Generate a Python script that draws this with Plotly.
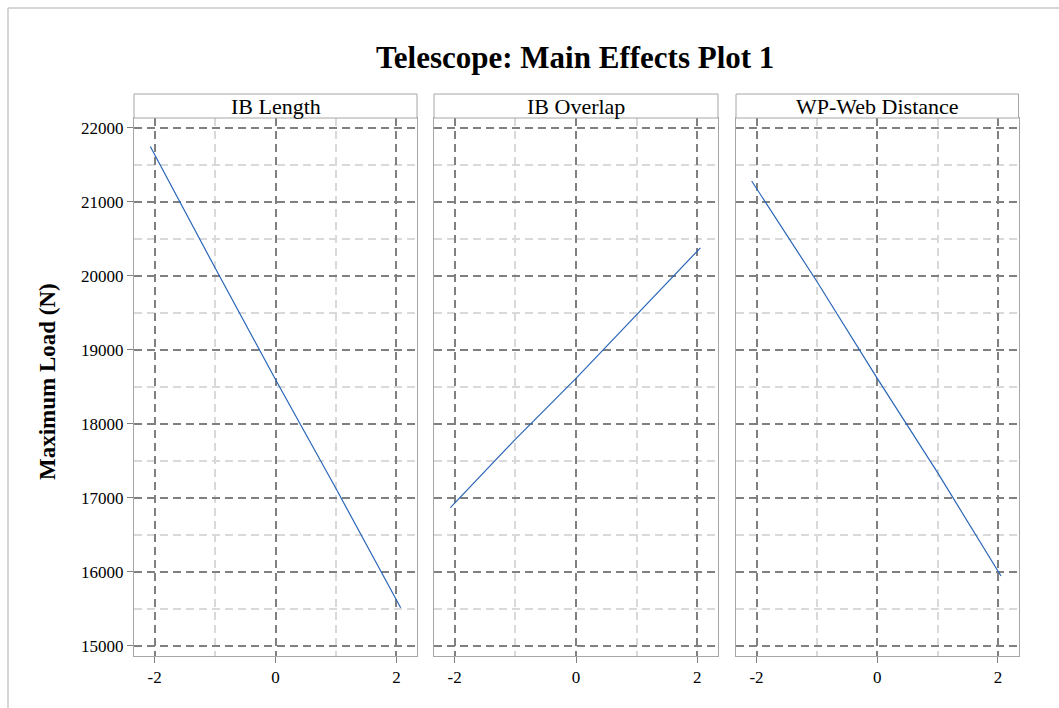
import plotly.graph_objects as go

# Coded factor levels and fitted maximum load for each factor
factors = ["IB Length", "IB Overlap", "WP-Web Distance"]
ib_length_x = [-2.07, -1, 0, 1, 2.07]
ib_length_y = [21750, 20110, 18600, 17125, 15513]
ib_overlap_x = [-2.07, -1, 0, 1, 2.05]
ib_overlap_y = [16866, 17790, 18615, 19480, 20380]
wp_web_x = [-2.08, -1, 0, 1, 2.05]
wp_web_y = [21283, 19925, 18615, 17340, 15942]

x_ticks = [-2, 0, 2]
y_ticks = [15000, 16000, 17000, 18000, 19000, 20000, 21000, 22000]

W, H = 1059, 708
FONT = "Liberation Serif"
LINE_COLOR = "#2a66b8"
MAJOR = "#808080"
MINOR = "#d9d9d9"
BORDER = "#a6a6a6"

series = [(ib_length_x, ib_length_y), (ib_overlap_x, ib_overlap_y), (wp_web_x, wp_web_y)]

# panel extents in pixels
panel_px = [(134, 417), (434, 718), (736, 1018.5)]
plot_top, plot_bottom = 118, 656
strip_top = 94

def px_x(v):
    return v / W

def px_y(v):
    return 1 - v / H

fig = go.Figure()
shapes = []
annotations = []

for i, ((xs, ys), name, (x0, x1)) in enumerate(zip(series, factors, panel_px)):
    sfx = "" if i == 0 else str(i + 1)
    fig.add_trace(go.Scatter(
        x=xs, y=ys, mode="lines",
        line=dict(color=LINE_COLOR, width=1.2),
        xaxis="x" + sfx, yaxis="y" + sfx, showlegend=False,
        hoverinfo="x+y",
    ))
    xaxis = dict(
        domain=[px_x(x0), px_x(x1)], anchor="y" + sfx,
        range=[-2.34, 2.34], tickvals=x_ticks, ticktext=[str(t) for t in x_ticks],
        ticks="outside", ticklen=6, tickcolor=MAJOR, tickwidth=1,
        showline=True, linecolor=BORDER, linewidth=1, mirror=True,
        showgrid=True, gridcolor=MAJOR, gridwidth=2, griddash="8px,5px",
        minor=dict(dtick=1, tick0=0, showgrid=True, gridcolor=MINOR,
                   gridwidth=2, griddash="8px,5px", ticks=""),
        zeroline=False, tickfont=dict(family=FONT, size=17, color="#000"),
        fixedrange=True,
    )
    yaxis = dict(
        domain=[px_y(plot_bottom), px_y(plot_top)], anchor="x" + sfx,
        range=[14861, 22135], tickvals=y_ticks,
        ticktext=[str(t) for t in y_ticks],
        showticklabels=(i == 0),
        ticks="outside" if i == 0 else "", ticklen=6, tickcolor=MAJOR, tickwidth=1,
        showline=True, linecolor=BORDER, linewidth=1, mirror=True,
        showgrid=True, gridcolor=MAJOR, gridwidth=2, griddash="8px,5px",
        minor=dict(dtick=500, tick0=0, showgrid=True, gridcolor=MINOR,
                   gridwidth=2, griddash="8px,5px", ticks=""),
        zeroline=False, tickfont=dict(family=FONT, size=17, color="#000"),
        fixedrange=True,
    )
    fig.layout["xaxis" + sfx] = xaxis
    fig.layout["yaxis" + sfx] = yaxis

    # panel strip header
    shapes.append(dict(
        type="rect", xref="paper", yref="paper",
        x0=px_x(x0), x1=px_x(x1), y0=px_y(plot_top), y1=px_y(strip_top),
        line=dict(color=BORDER, width=1), fillcolor="white", layer="above",
    ))
    annotations.append(dict(
        text=name, xref="paper", yref="paper",
        x=px_x((x0 + x1) / 2), y=px_y((strip_top + plot_top) / 2),
        xanchor="center", yanchor="middle", showarrow=False,
        font=dict(family=FONT, size=22, color="#000"),
    ))

# outer frame (left and top edges)
shapes.append(dict(type="line", xref="paper", yref="paper",
                   x0=px_x(8), x1=px_x(8), y0=0, y1=px_y(8),
                   line=dict(color="#c8c8c8", width=1.5)))
shapes.append(dict(type="line", xref="paper", yref="paper",
                   x0=px_x(8), x1=1, y0=px_y(8), y1=px_y(8),
                   line=dict(color="#c8c8c8", width=1.5)))

annotations.append(dict(
    text="<b>Telescope: Main Effects Plot 1</b>", xref="paper", yref="paper",
    x=px_x(575), y=px_y(58), xanchor="center", yanchor="middle", showarrow=False,
    font=dict(family=FONT, size=31, color="#000"),
))
annotations.append(dict(
    text="<b>Maximum Load (N)</b>", xref="paper", yref="paper",
    x=px_x(47), y=px_y(382), xanchor="center", yanchor="middle", showarrow=False,
    textangle=-90, font=dict(family=FONT, size=23, color="#000"),
))

fig.update_layout(
    width=W, height=H, margin=dict(l=0, r=0, t=0, b=0),
    paper_bgcolor="white", plot_bgcolor="white",
    shapes=shapes, annotations=annotations,
    font=dict(family=FONT, color="#000"),
)

fig.write_html("out.html", config={"displayModeBar": False})
